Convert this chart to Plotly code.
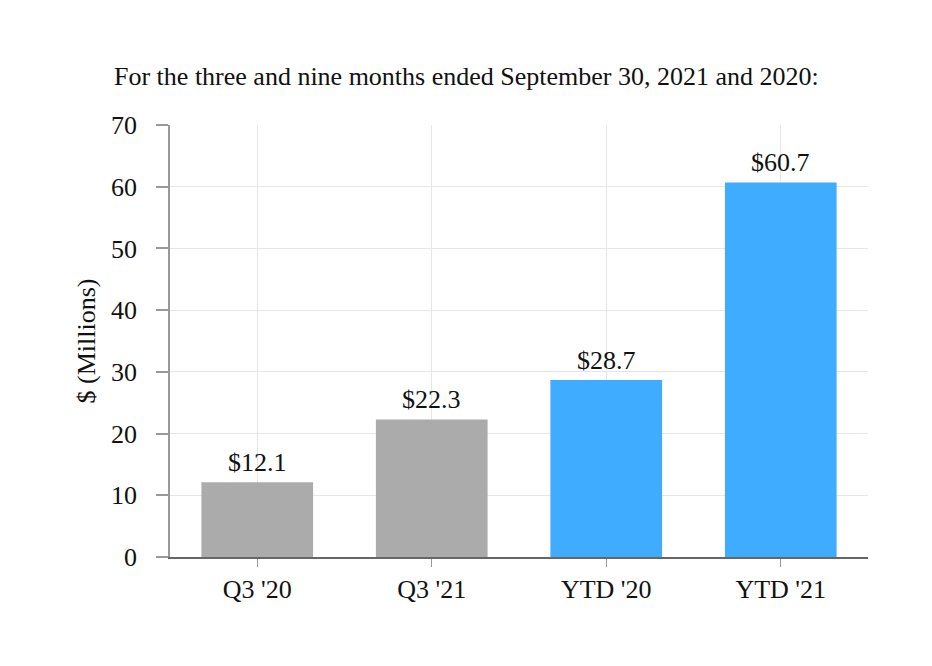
import plotly.graph_objects as go

categories = ["Q3 '20", "Q3 '21", "YTD '20", "YTD '21"]
values = [12.1, 22.3, 28.7, 60.7]
labels = ["$12.1", "$22.3", "$28.7", "$60.7"]
colors = ["#ababab", "#ababab", "#40acff", "#40acff"]
y_ticks = [0, 10, 20, 30, 40, 50, 60, 70]

FONT = "Liberation Serif, Times New Roman, serif"
FS = 26

fig = go.Figure()
fig.add_trace(go.Bar(
    x=categories, y=values, marker=dict(color=colors, line=dict(width=0)),
    width=0.64, hoverinfo="skip",
))
for c, v, t in zip(categories, values, labels):
    fig.add_annotation(x=c, y=v, text=t, showarrow=False, yanchor="bottom",
                       yshift=3, font=dict(family=FONT, size=FS, color="#111"))

fig.update_layout(
    width=932, height=666,
    margin=dict(l=162, r=72, t=117, b=117),
    paper_bgcolor="white", plot_bgcolor="white",
    font=dict(family=FONT, size=FS, color="#111"),
    showlegend=False,
    title=dict(text="For the three and nine months ended September 30, 2021 and 2020:",
               x=106/932, xanchor="left", y=1-68/666, yanchor="middle",
               font=dict(family=FONT, size=FS, color="#111")),
)
fig.update_xaxes(
    showgrid=True, gridcolor="#e6e6e6", gridwidth=1,
    showline=True, linecolor="#666", linewidth=2,
    ticks="outside", ticklen=8, tickcolor="#999", tickwidth=1,
    tickfont=dict(family=FONT, size=FS, color="#111"),
)
fig.update_yaxes(
    range=[0, 70], tickvals=y_ticks,
    showgrid=True, gridcolor="#e6e6e6", gridwidth=1,
    showline=True, linecolor="#999", linewidth=1.5,
    ticks="outside", ticklen=12, tickcolor="#999", tickwidth=1.5,
    ticklabelstandoff=14,
    tickfont=dict(family=FONT, size=FS, color="#111"),
    zeroline=False,
    title=dict(text="$ (Millions)", font=dict(family=FONT, size=FS, color="#111"), standoff=8),
)
fig.write_html("out.html")
